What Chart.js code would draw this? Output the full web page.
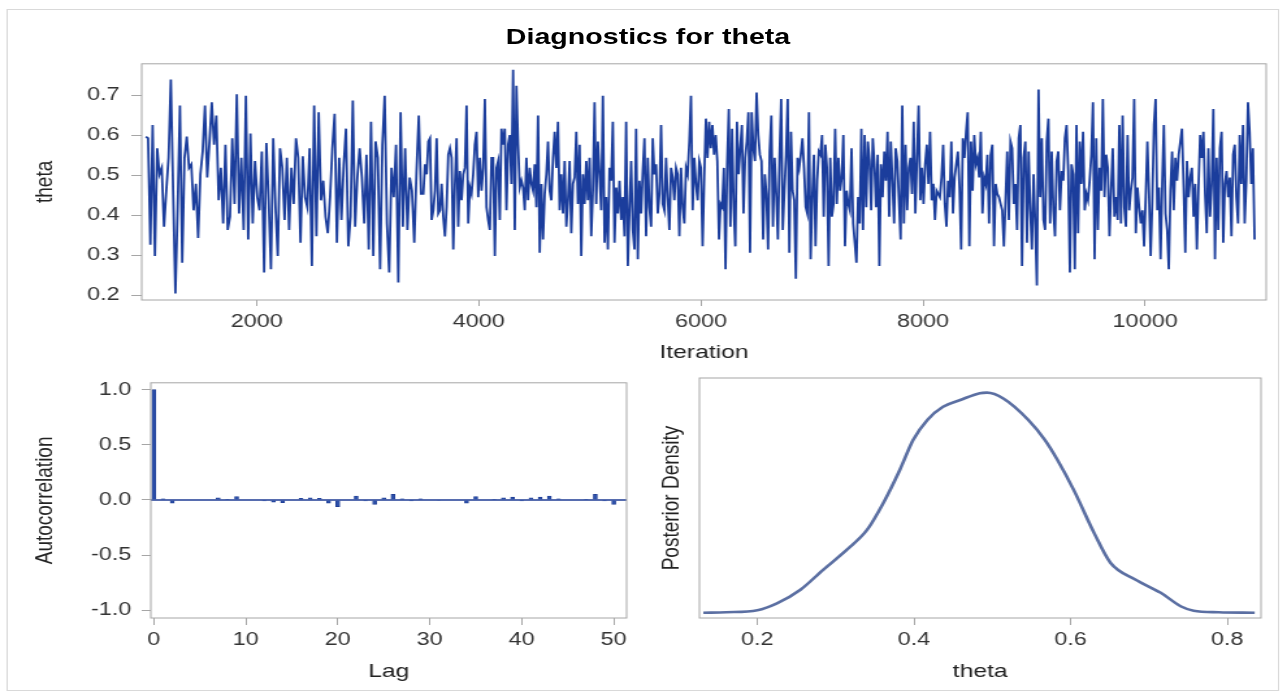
<!DOCTYPE html>
<html>
<head>
<meta charset="utf-8">
<script src="https://cdn.jsdelivr.net/npm/chart.js@4.4.1/dist/chart.umd.min.js"></script>
<style>
  html, body { margin: 0; padding: 0; background: #fff; overflow: hidden; }
  /* the reference is stretched sideways, so lay out narrow and scale */
  #page { position: absolute; left: 0; top: 0; width: 990px; height: 698px; transform: scaleX(1.3); transform-origin: 0 0; }
  .frame { position: absolute; left: 5px; top: 9px; width: 977px; height: 680px; border: 1px solid #d9d9d9; }
  .title { position: absolute; left: 0; top: 24px; width: 997px; line-height: 26px; text-align: center;
           font: bold 22px "Liberation Sans", Arial, sans-serif; color: #000; }
  .box { position: absolute; }
</style>
</head>
<body>
<div id="page">
  <div class="frame"></div>
  <div class="title">Diagnostics for theta</div>
  <div class="box" style="left:19px; top:44px; width:965px; height:324px;"><canvas id="traceChart"></canvas></div>
  <div class="box" style="left:19px; top:364px; width:475px; height:323px;"><canvas id="acfChart"></canvas></div>
  <div class="box" style="left:501px; top:363px; width:481px; height:324px;"><canvas id="densChart"></canvas></div>
</div>
<script>
// trace values, four stretches of the chain
const trace1 = [0.596, 0.592, 0.326, 0.625, 0.298, 0.567, 0.502, 0.518, 0.371, 0.461, 0.543, 0.739, 0.461, 0.204, 0.420, 0.674, 0.281, 0.543, 0.596, 0.518, 0.527, 0.412, 0.478, 0.343, 0.502, 0.559, 0.674, 0.494, 0.584, 0.682, 0.576, 0.649, 0.437, 0.518, 0.379, 0.576, 0.363, 0.396, 0.592, 0.428, 0.702, 0.404, 0.543, 0.363, 0.698, 0.339, 0.604, 0.379, 0.535, 0.445, 0.412, 0.559, 0.257, 0.580, 0.437, 0.265, 0.592, 0.420, 0.298, 0.567, 0.518, 0.388, 0.543, 0.363, 0.518, 0.428, 0.592, 0.543, 0.331, 0.547, 0.445, 0.420, 0.567, 0.273, 0.674, 0.347, 0.657, 0.437, 0.486, 0.396, 0.355, 0.445, 0.567, 0.653, 0.331, 0.543, 0.388, 0.527, 0.616, 0.322, 0.396, 0.686, 0.371, 0.494, 0.567, 0.494, 0.379, 0.551, 0.314, 0.633, 0.298, 0.584, 0.543, 0.265, 0.576, 0.698, 0.379, 0.257, 0.518, 0.445, 0.576, 0.232, 0.657, 0.371, 0.567, 0.363, 0.494, 0.461, 0.331, 0.510, 0.649, 0.453];
const trace2 = [0.453, 0.527, 0.502, 0.584, 0.592, 0.388, 0.412, 0.461, 0.592, 0.404, 0.412, 0.478, 0.396, 0.347, 0.420, 0.551, 0.567, 0.543, 0.314, 0.478, 0.592, 0.371, 0.510, 0.437, 0.502, 0.518, 0.674, 0.379, 0.469, 0.453, 0.502, 0.576, 0.608, 0.445, 0.543, 0.461, 0.518, 0.690, 0.420, 0.388, 0.363, 0.543, 0.543, 0.298, 0.518, 0.535, 0.388, 0.616, 0.576, 0.616, 0.412, 0.576, 0.600, 0.478, 0.763, 0.363, 0.723, 0.576, 0.469, 0.486, 0.469, 0.412, 0.543, 0.437, 0.518, 0.478, 0.461, 0.527, 0.420, 0.649, 0.306, 0.478, 0.339, 0.453, 0.502, 0.584, 0.461, 0.437, 0.543, 0.608, 0.518, 0.633, 0.412, 0.502, 0.404, 0.535, 0.371, 0.437, 0.535, 0.355, 0.478, 0.494, 0.608, 0.428, 0.576, 0.298, 0.502, 0.428, 0.535, 0.437, 0.543, 0.347, 0.461, 0.682, 0.428, 0.584, 0.502, 0.412, 0.698, 0.331, 0.445, 0.314, 0.518, 0.486, 0.633, 0.331, 0.469, 0.404, 0.486, 0.388, 0.445, 0.347, 0.633, 0.273, 0.412, 0.535, 0.363, 0.314, 0.616, 0.290, 0.486, 0.404, 0.510, 0.592, 0.347, 0.543, 0.420, 0.371, 0.592, 0.502, 0.527, 0.404, 0.453, 0.625, 0.428, 0.412, 0.543, 0.445, 0.363, 0.518, 0.494, 0.437, 0.518, 0.502, 0.347, 0.518, 0.420, 0.379, 0.518, 0.502, 0.584, 0.698, 0.412, 0.543, 0.478, 0.437, 0.535];
const trace3 = [0.518, 0.322, 0.494, 0.641, 0.543, 0.633, 0.567, 0.625, 0.551, 0.600, 0.535, 0.339, 0.428, 0.420, 0.518, 0.265, 0.527, 0.665, 0.371, 0.616, 0.420, 0.322, 0.633, 0.502, 0.567, 0.625, 0.404, 0.543, 0.584, 0.657, 0.306, 0.657, 0.567, 0.535, 0.706, 0.600, 0.551, 0.535, 0.339, 0.502, 0.453, 0.314, 0.559, 0.649, 0.371, 0.543, 0.453, 0.339, 0.543, 0.690, 0.363, 0.461, 0.551, 0.690, 0.306, 0.608, 0.461, 0.437, 0.241, 0.543, 0.518, 0.551, 0.592, 0.518, 0.420, 0.404, 0.657, 0.290, 0.445, 0.551, 0.322, 0.486, 0.559, 0.551, 0.600, 0.396, 0.576, 0.518, 0.273, 0.543, 0.396, 0.428, 0.616, 0.428, 0.543, 0.461, 0.494, 0.600, 0.322, 0.461, 0.428, 0.412, 0.567, 0.379, 0.331, 0.281, 0.445, 0.379, 0.616, 0.363, 0.600, 0.420, 0.584, 0.535, 0.412, 0.592, 0.527, 0.420, 0.551, 0.273, 0.527, 0.445, 0.559, 0.486, 0.608, 0.396, 0.584, 0.486, 0.379, 0.567, 0.535, 0.437, 0.339, 0.674, 0.379, 0.576, 0.412, 0.518, 0.543, 0.453, 0.633, 0.404, 0.543, 0.674, 0.437, 0.518, 0.428, 0.527, 0.576, 0.478, 0.608, 0.437, 0.478, 0.388, 0.461, 0.453, 0.445, 0.494, 0.576, 0.428, 0.371, 0.486, 0.445, 0.584, 0.404, 0.494, 0.527, 0.559, 0.469, 0.314, 0.592, 0.543, 0.608, 0.657, 0.322, 0.584, 0.461, 0.600, 0.527, 0.543, 0.494];
const trace4 = [0.608, 0.404, 0.494, 0.478, 0.551, 0.379, 0.551, 0.576, 0.322, 0.478, 0.453, 0.445, 0.428, 0.412, 0.322, 0.437, 0.559, 0.388, 0.584, 0.567, 0.428, 0.478, 0.363, 0.592, 0.625, 0.273, 0.543, 0.584, 0.331, 0.559, 0.412, 0.314, 0.502, 0.379, 0.224, 0.714, 0.445, 0.592, 0.388, 0.363, 0.584, 0.641, 0.379, 0.559, 0.412, 0.347, 0.535, 0.559, 0.412, 0.510, 0.486, 0.592, 0.625, 0.510, 0.257, 0.527, 0.502, 0.265, 0.625, 0.355, 0.584, 0.478, 0.608, 0.412, 0.453, 0.437, 0.486, 0.551, 0.682, 0.290, 0.592, 0.363, 0.518, 0.461, 0.690, 0.445, 0.551, 0.518, 0.347, 0.461, 0.567, 0.396, 0.445, 0.388, 0.625, 0.379, 0.649, 0.420, 0.371, 0.600, 0.412, 0.461, 0.494, 0.690, 0.355, 0.469, 0.420, 0.379, 0.412, 0.322, 0.445, 0.584, 0.453, 0.298, 0.437, 0.625, 0.690, 0.412, 0.469, 0.290, 0.478, 0.625, 0.404, 0.363, 0.265, 0.461, 0.559, 0.412, 0.543, 0.486, 0.551, 0.584, 0.616, 0.469, 0.306, 0.535, 0.445, 0.494, 0.518, 0.396, 0.478, 0.314, 0.469, 0.600, 0.543, 0.608, 0.453, 0.355, 0.567, 0.396, 0.478, 0.665, 0.290, 0.543, 0.363, 0.567, 0.608, 0.331, 0.478, 0.510, 0.445, 0.494, 0.347, 0.551, 0.576, 0.445, 0.379, 0.600, 0.478, 0.625, 0.379, 0.486, 0.682, 0.608, 0.478, 0.567, 0.339];
const segStarts = [1001, 3500, 6000, 8520];
const segEnds = [3500, 6000, 8520, 11000];
const iterTicks = [2000, 4000, 6000, 8000, 10000];
const thetaTicks = [0.2, 0.3, 0.4, 0.5, 0.6, 0.7];

// autocorrelation, lags 0..50
const lags = [];
for (let i = 0; i <= 50; i++) lags.push(i);
const acfValues = [1.0, 0.01, -0.03, 0, 0, 0, 0, 0.02, 0.005, 0.03, 0,
  0, -0.01, -0.02, -0.025, 0, 0.015, 0.02, 0.015, -0.03, -0.06,
  0, 0.035, -0.01, -0.04, 0.02, 0.05, 0.01, -0.01, 0.01, 0,
  -0.005, 0, 0, -0.03, 0.03, 0, 0.005, 0.02, 0.025, -0.01,
  0.02, 0.025, 0.035, 0.01, 0, 0, 0.005, 0.05, -0.01, -0.04];
const lagTicks = [0, 10, 20, 30, 40, 50];
const acfTicks = [-1, -0.5, 0, 0.5, 1];

// posterior density curve
const densTheta = [0.131, 0.16, 0.2, 0.225, 0.255, 0.284, 0.314, 0.34, 0.361, 0.382, 0.399, 0.417, 0.437, 0.459, 0.484, 0.493, 0.514, 0.546, 0.567, 0.583, 0.604, 0.63, 0.651, 0.683, 0.715, 0.741, 0.757, 0.789, 0.835];
const densValues = [0.0, 0.01, 0.05, 0.18, 0.44, 0.82, 1.2, 1.58, 2.1, 2.73, 3.3, 3.68, 3.93, 4.06, 4.19, 4.2, 4.09, 3.68, 3.3, 2.92, 2.34, 1.52, 0.95, 0.63, 0.38, 0.12, 0.04, 0.01, 0.0];
const densTicks = [0.2, 0.4, 0.6, 0.8];

const fontFam = '"Liberation Sans", Arial, sans-serif';
const tickFont = { family: fontFam, size: 18 };
const titleFont = { family: fontFam, size: 19 };
const axisGray = "#a6a6a6";

// box round each plot area
const framePlugin = {
  id: "frame",
  afterDraw(chart) {
    const { ctx, chartArea: a } = chart;
    ctx.save();
    ctx.strokeStyle = axisGray;
    ctx.lineWidth = 1;
    ctx.strokeRect(a.left, a.top, a.right - a.left, a.bottom - a.top);
    ctx.restore();
  },
};

const fixTicks = (list) => (scale) => {
  scale.ticks = list.map((v) => ({ value: v }));
};

const makeAxis = (opts) => ({
  type: "linear",
  min: opts.min,
  max: opts.max,
  offset: false,
  afterBuildTicks: opts.ticks ? fixTicks(opts.ticks) : undefined,
  afterFit: (s) => {
    if (opts.width) s.width = opts.width;
    if (opts.height) s.height = opts.height;
  },
  border: { display: false },
  grid: {
    display: opts.ticks ? true : false,
    drawOnChartArea: false,
    offset: false,
    tickLength: opts.tickLength || 7,
    color: axisGray,
  },
  ticks: {
    display: opts.ticks ? true : false,
    font: tickFont,
    color: "#333",
    padding: opts.padding || 6,
    autoSkip: false,
    maxRotation: 0,
    callback: opts.format,
  },
  title: { display: true, text: opts.title, font: titleFont, color: "#222", padding: { top: 4, bottom: 4 } },
});

// trace plot
const tracePoints = [];
[trace1, trace2, trace3, trace4].forEach((vals, k) => {
  const step = (segEnds[k] - segStarts[k]) / vals.length;
  vals.forEach((v, i) => tracePoints.push({ x: segStarts[k] + i * step, y: v }));
});

new Chart(document.getElementById("traceChart"), {
  type: "line",
  data: {
    datasets: [{ data: tracePoints, borderColor: "#1b3d9c", borderWidth: 1.8, pointRadius: 0, tension: 0 }],
  },
  options: {
    responsive: true,
    maintainAspectRatio: false,
    animation: false,
    layout: { padding: { top: 15, right: 10, bottom: 0, left: 0 } },
    plugins: { legend: { display: false }, tooltip: { enabled: false } },
    scales: {
      x: makeAxis({ min: 964, max: 11090, ticks: iterTicks, height: 68, tickLength: 6, padding: 5, title: "Iteration", format: (v) => String(v) }),
      y: makeAxis({ min: 0.188, max: 0.778, ticks: thetaTicks, width: 90, tickLength: 8, padding: 9, title: "theta", format: (v) => v.toFixed(1) }),
    },
  },
  plugins: [framePlugin],
});

// autocorrelation plot
const zeroLine = {
  id: "zeroLine",
  beforeDatasetsDraw(chart) {
    const { ctx, chartArea: a } = chart;
    const y0 = chart.scales.y.getPixelForValue(0);
    ctx.save();
    ctx.strokeStyle = "#1f3d94";
    ctx.lineWidth = 1.5;
    ctx.beginPath();
    ctx.moveTo(a.left, y0);
    ctx.lineTo(a.right, y0);
    ctx.stroke();
    ctx.restore();
  },
};

new Chart(document.getElementById("acfChart"), {
  type: "bar",
  data: {
    datasets: [{
      data: lags.map((l, i) => ({ x: l, y: acfValues[i] })),
      backgroundColor: "#2c50aa",
      borderColor: "#1f3d94",
      borderWidth: 0.8,
      barThickness: 3,
    }],
  },
  options: {
    responsive: true,
    maintainAspectRatio: false,
    animation: false,
    layout: { padding: { top: 15, right: 12, bottom: 0, left: 0 } },
    plugins: { legend: { display: false }, tooltip: { enabled: false } },
    scales: {
      x: makeAxis({ min: -0.33, max: 51.4, ticks: lagTicks, height: 69, tickLength: 7, padding: 4, title: "Lag", format: (v) => String(v) }),
      y: makeAxis({ min: -1.071, max: 1.0625, ticks: acfTicks, width: 97, tickLength: 7, padding: 8, title: "Autocorrelation", format: (v) => v.toFixed(1) }),
    },
  },
  plugins: [framePlugin, zeroLine],
});

// density plot
new Chart(document.getElementById("densChart"), {
  type: "line",
  data: {
    datasets: [{
      data: densTheta.map((t, i) => ({ x: t, y: densValues[i] })),
      borderColor: "#5b6fa2",
      borderWidth: 2.6,
      pointRadius: 0,
      cubicInterpolationMode: "monotone",
    }],
  },
  options: {
    responsive: true,
    maintainAspectRatio: false,
    animation: false,
    layout: { padding: { top: 15, right: 12, bottom: 0, left: 0 } },
    plugins: { legend: { display: false }, tooltip: { enabled: false } },
    scales: {
      x: makeAxis({ min: 0.126, max: 0.843, ticks: densTicks, height: 69, tickLength: 7, padding: 4, title: "theta", format: (v) => v.toFixed(1) }),
      y: makeAxis({ min: -0.1, max: 4.48, width: 37, title: "Posterior Density" }),
    },
  },
  plugins: [framePlugin],
});
</script>
</body>
</html>
